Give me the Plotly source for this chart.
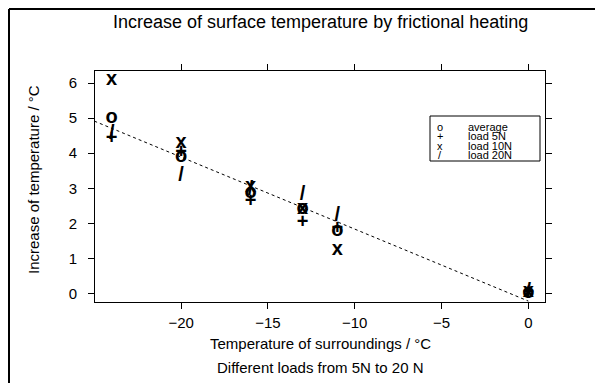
import numpy as np
import plotly.graph_objects as go

# ---- data ----
temps = [-24, -20, -16, -13, -11, 0]
average = [5.0, 3.88, 2.87, 2.4, 1.77, 0.02]
load_5N = [4.4, 4.0, 2.6, 2.0, 1.85, 0.0]
load_10N = [6.1, 4.3, 3.05, 2.4, 1.25, 0.05]
load_20N = [4.55, 3.35, 2.95, 2.8, 2.2, 0.05]

series_names = ["average", "load 5N", "load 10N", "load 20N"]
series_symbols = ["o", "+", "x", "/"]
series_values = [average, load_5N, load_10N, load_20N]

x_ticks = [-20, -15, -10, -5, 0]
y_ticks = [0, 1, 2, 3, 4, 5, 6]

title_text = "Increase of surface temperature by frictional heating"
x_title = "Temperature of surroundings / °C"
sub_title = "Different loads from 5N to 20 N"
y_title = "Increase of temperature / °C"

FONT = "Liberation Sans, Arial, Helvetica, sans-serif"

# ---- figure geometry (page pixels; the page body has an 8px margin) ----
OFF = 8
W, H = 603 - OFF, 383 - OFF
PL, PR, PT, PB = 95, 545, 71, 302          # plot box in page pixels
L, T = PL - OFF, PT - OFF
R, B = (603 - PR), (383 - PB)
PW, PH = PR - PL, PB - PT


def px_x(p):
    return (p - PL) / PW


def px_y(p):
    return (PB - p) / PH


fig = go.Figure()

# regression line of the averages (least squares fit)
slope, intercept = np.polyfit(temps, average, 1)
x_line = [-25.0, 0.0]
fig.add_trace(go.Scatter(
    x=x_line, y=[slope * v + intercept for v in x_line],
    mode="lines", line=dict(color="black", width=1, dash="dot"),
    hoverinfo="skip", showlegend=False))

for name, sym, vals in zip(series_names, series_symbols, series_values):
    fig.add_trace(go.Scatter(
        x=temps, y=vals, mode="text", text=[sym] * len(temps),
        textposition="middle center",
        textfont=dict(family=FONT, size=20, color="black", weight="bold"),
        name=name, showlegend=False, hoverinfo="x+y+name"))

axis_common = dict(
    showgrid=False, zeroline=False, showline=True, linecolor="black",
    linewidth=1, mirror="ticks", ticks="outside", ticklen=6,
    tickcolor="black", tickwidth=1,
    tickfont=dict(family=FONT, size=15, color="black"))

fig.update_xaxes(range=[-24.96, 0.96], tickvals=x_ticks,
                 ticklabelstandoff=1, **axis_common)
fig.update_yaxes(range=[-0.244, 6.344], tickvals=y_ticks,
                 ticklabelstandoff=8, **axis_common)

annotations = [
    dict(text=title_text, x=px_x(320), y=px_y(22), xref="paper", yref="paper",
         xanchor="center", yanchor="middle", showarrow=False,
         font=dict(family=FONT, size=18, color="black")),
    dict(text=x_title, x=px_x(320), y=px_y(343), xref="paper", yref="paper",
         xanchor="center", yanchor="middle", showarrow=False,
         font=dict(family=FONT, size=15, color="black")),
    dict(text=sub_title, x=px_x(320), y=px_y(367), xref="paper", yref="paper",
         xanchor="center", yanchor="middle", showarrow=False,
         font=dict(family=FONT, size=15, color="black")),
    dict(text=y_title, x=px_x(33), y=px_y(180), xref="paper", yref="paper",
         xanchor="center", yanchor="middle", showarrow=False, textangle=-90,
         font=dict(family=FONT, size=15, color="black")),
]

# manual legend box
leg_x0, leg_x1, leg_y0, leg_y1 = 430, 540, 116, 161
row0, row_step = 126.5, 9.5
for i, (name, sym) in enumerate(zip(series_names, series_symbols)):
    yy = px_y(row0 + i * row_step)
    annotations.append(dict(text=sym, x=px_x(440), y=yy, xref="paper", yref="paper",
                            xanchor="center", yanchor="middle", showarrow=False,
                            borderpad=0,
                            font=dict(family=FONT, size=11, color="black")))
    annotations.append(dict(text=name, x=px_x(467), y=yy, xref="paper", yref="paper",
                            xanchor="left", yanchor="middle", showarrow=False,
                            borderpad=0,
                            font=dict(family=FONT, size=11, color="black")))

shapes = [
    dict(type="rect", xref="paper", yref="paper",
         x0=px_x(leg_x0), x1=px_x(leg_x1), y0=px_y(leg_y1), y1=px_y(leg_y0),
         line=dict(color="black", width=1), fillcolor="rgba(0,0,0,0)"),
    # outer frame (left and top edges visible in the scan)
    dict(type="line", xref="paper", yref="paper",
         x0=px_x(9), x1=px_x(9), y0=px_y(383), y1=px_y(9),
         line=dict(color="black", width=2)),
    dict(type="line", xref="paper", yref="paper",
         x0=px_x(9), x1=px_x(603), y0=px_y(9), y1=px_y(9),
         line=dict(color="black", width=2)),
]

fig.update_layout(
    width=W, height=H,
    margin=dict(l=L, r=R, t=T, b=B, autoexpand=False),
    paper_bgcolor="white", plot_bgcolor="white",
    showlegend=False,
    annotations=annotations, shapes=shapes,
    font=dict(family=FONT, color="black"),
)

fig.write_html("out.html")
